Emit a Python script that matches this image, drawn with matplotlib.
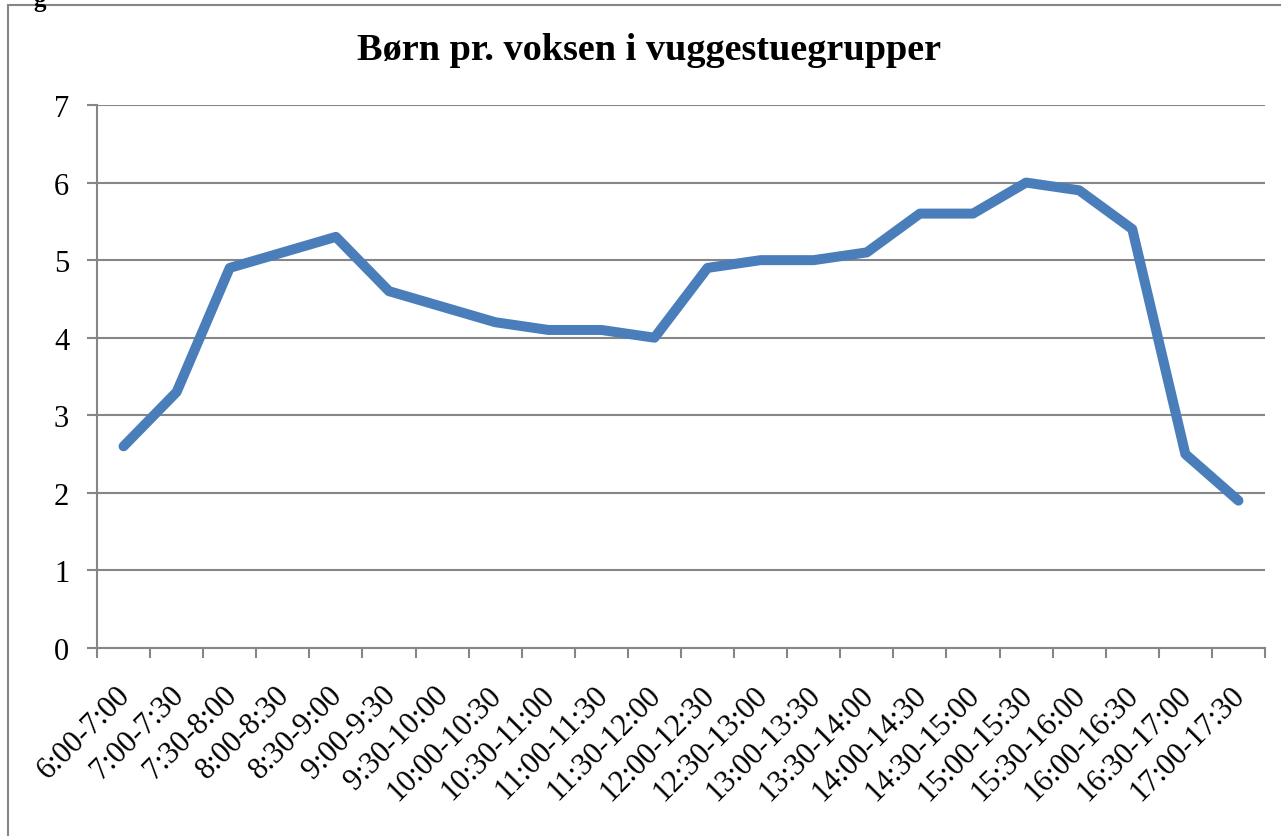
import matplotlib.pyplot as plt
from matplotlib.patches import Rectangle
from matplotlib.transforms import ScaledTranslation

plt.rcParams['font.family'] = ['Liberation Serif', 'DejaVu Serif']

# time slots and children per adult
slots = ["6:00-7:00", "7:00-7:30", "7:30-8:00", "8:00-8:30", "8:30-9:00",
         "9:00-9:30", "9:30-10:00", "10:00-10:30", "10:30-11:00", "11:00-11:30",
         "11:30-12:00", "12:00-12:30", "12:30-13:00", "13:00-13:30", "13:30-14:00",
         "14:00-14:30", "14:30-15:00", "15:00-15:30", "15:30-16:00", "16:00-16:30",
         "16:30-17:00", "17:00-17:30"]
children = [2.6, 3.3, 4.9, 5.1, 5.3, 4.6, 4.4, 4.2, 4.1, 4.1, 4.0,
            4.9, 5.0, 5.0, 5.1, 5.6, 5.6, 6.0, 5.9, 5.4, 2.5, 1.9]

gray = "#868686"

fig = plt.figure(figsize=(12.81, 8.37), dpi=100)
ax = fig.add_axes([97 / 1281, 1 - 649 / 837, 1168 / 1281, 543 / 837])

x = list(range(len(slots)))
ax.plot(x, children, color="#4a7ebb", linewidth=7.2, solid_capstyle="round",
        solid_joinstyle="round", zorder=3)

ax.set_xlim(-0.5, len(slots) - 0.5)
ax.set_ylim(0, 7)
ax.set_yticks(range(0, 8))
ax.yaxis.grid(True, color=gray, linewidth=1.5)
ax.set_axisbelow(True)

# ticks on category boundaries, labels at the centres
ax.set_xticks([i - 0.5 for i in range(len(slots) + 1)])
ax.set_xticklabels([])
ax.set_xticks(x, minor=True)
ax.set_xticklabels(slots, minor=True, rotation=45, ha="right", va="top",
                   rotation_mode="anchor", fontsize=22)
ax.tick_params(axis="x", which="minor", length=0, pad=23)
ax.tick_params(axis="both", which="major", color=gray, width=1.5, length=7,
               labelsize=22)
ax.tick_params(axis="y", pad=13)
shift = ScaledTranslation(-8 / 100, 0, fig.dpi_scale_trans)
for lab in ax.get_xticklabels(minor=True):
    lab.set_transform(lab.get_transform() + shift)

for side in ["top", "right"]:
    ax.spines[side].set_visible(False)
for side in ["left", "bottom"]:
    ax.spines[side].set_color(gray)
    ax.spines[side].set_linewidth(1.5)

fig.text(0.507, 1 - 50 / 837, "Børn pr. voksen i vuggestuegrupper",
         ha="center", va="center", fontsize=27.5, fontweight="bold")

# outer chart border
fig.patches.append(Rectangle((8 / 1281, -0.1), 1.2, 1 - 6 / 837 + 0.1,
                             transform=fig.transFigure, fill=False,
                             edgecolor=gray, linewidth=1.5))
fig.text(33 / 1281, 1.0, "g", ha="left", va="center", fontsize=18,
         fontweight="bold")

fig.savefig("out.png", dpi=100)
